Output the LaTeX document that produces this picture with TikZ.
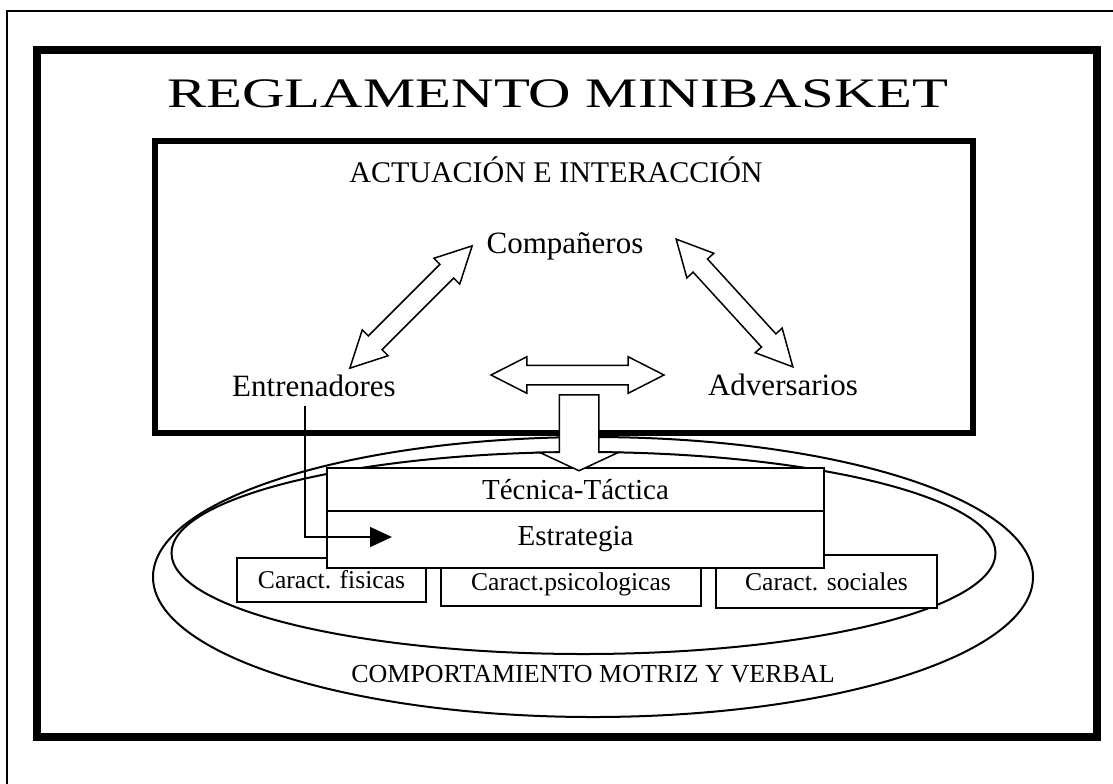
\documentclass[tikz,border=0pt]{standalone}
\usepackage{fontspec}
\setmainfont{Liberation Serif}
\usepackage{graphicx}
\usetikzlibrary{shapes.arrows, arrows.meta, positioning, calc}

\begin{document}
\begin{tikzpicture}[x=0.5pt, y=-0.5pt,
  actor/.style={inner sep=0pt, anchor=base, font=\fontsize{15.5}{18}\selectfont},
  layer/.style={rectangle, draw, fill=white, line width=0.75pt, inner sep=0pt, font=\fontsize{14.5}{17}\selectfont},
  trait/.style={rectangle, draw, fill=white, line width=0.75pt, inner sep=0pt, minimum height=22pt, font=\fontsize{12.8}{15}\selectfont},
  ring/.style={draw, line width=1pt},
  blk/.style={draw, fill=white, line width=0.75pt, inner xsep=0pt},
  dbl/.style={blk, double arrow, inner ysep=4.5pt, minimum height=86.5pt, double arrow head extend=4.25pt, double arrow tip angle=54},
  link/.style={-{Triangle[length=11pt, width=10pt]}, line width=0.75pt}
]
\useasboundingbox (0,0) rectangle (1113,783);
% marcos
\draw[line width=0.75pt] (7,11) rectangle (1130,800);
\draw[line width=4pt] (37,50) rectangle (1097,737);
\node[inner sep=0pt, anchor=base, font=\fontsize{21}{24}\selectfont] (title) at (558,107) {\scalebox{1.4}[1]{REGLAMENTO MINIBASKET}};
% actuacion
\draw[line width=3pt] (155,141) rectangle (973,433);
\node[actor, font=\fontsize{15}{18}\selectfont] (act) at (556,182) {ACTUACIÓN E INTERACCIÓN};
\node[actor] (comp) at (565,253) {Compañeros};
\node[actor] (entr) at (314,396) {Entrenadores};
\node[actor] (adv) at (783,395) {Adversarios};
% comportamiento
\draw[ring] (593,577) ellipse [x radius=220pt, y radius=70pt];
\draw[ring] (583.5,553) ellipse [x radius=206pt, y radius=50.5pt];
\node[actor, font=\fontsize{13}{15}\selectfont] (comport) at (593,682) {COMPORTAMIENTO MOTRIZ Y VERBAL};
\node[trait, minimum width=94.5pt] (fis) at (331.5,580) {Caract. fisicas};
\node[trait, minimum width=130pt] (psi) at (571,584) {Caract.psicologicas};
\node[trait, minimum width=110.5pt, minimum height=26.5pt] (soc) at (826.5,581.5) {Caract. sociales};
\node[layer, minimum width=248.5pt, minimum height=21.5pt] (tec) at (575.5,489.5) {Técnica-Táctica};
\node[layer, minimum width=248.5pt, minimum height=28.5pt] (estr) at (575.5,539.5) {Estrategia};
% flechas
\node[dbl, rotate=45] (ec) at (411,307) {};
\node[dbl, rotate=-47.6] (ca) at (734.5,303) {};
\node[dbl] (ea) at (577.5,375) {};
\node[blk, single arrow, rotate=-90, anchor=tail, inner ysep=9.5pt, minimum height=38pt, single arrow head extend=9.75pt, single arrow tip angle=130] (down) at (579,394) {};
\coordinate (strtip) at (392,537);
\draw[link] ([xshift=-4.5pt, yshift=-4.5pt]entr.south) |- (strtip);
\end{tikzpicture}
\end{document}
